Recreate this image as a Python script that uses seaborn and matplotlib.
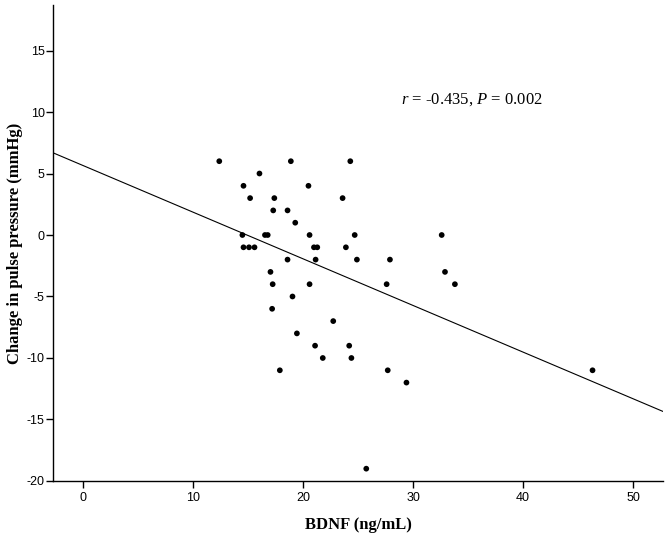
import numpy as np
import pandas as pd
import matplotlib
matplotlib.use("Agg")
import matplotlib.pyplot as plt
import seaborn as sns

# BDNF (ng/mL) vs change in pulse pressure (mmHg)
bdnf = [12.4, 18.9, 24.3, 16.05, 14.6, 20.5, 15.2, 17.4, 23.6, 17.3,
        18.6, 19.3, 14.5, 16.55, 16.8, 20.6, 24.7, 32.6, 14.6, 15.1,
        15.6, 21.0, 21.3, 23.9, 18.6, 21.15, 24.9, 27.9, 17.05, 32.9,
        17.25, 20.6, 27.6, 33.8, 19.05, 17.2, 22.75, 19.45, 21.1, 24.2,
        21.8, 24.4, 17.9, 27.7, 46.3, 29.4, 25.75]
dpp = [6, 6, 6, 5, 4, 4, 3, 3, 3, 2,
       2, 1, 0, 0, 0, 0, 0, 0, -1, -1,
       -1, -1, -1, -1, -2, -2, -2, -2, -3, -3,
       -4, -4, -4, -4, -5, -6, -7, -8, -9, -9,
       -10, -10, -11, -11, -11, -12, -19]

x_ticks = [0, 10, 20, 30, 40, 50]
y_ticks = [-20, -15, -10, -5, 0, 5, 10, 15]
stat_text = r"$\it{r}$ = -0.435, $\it{P}$ = 0.002"

df = pd.DataFrame({"BDNF": bdnf, "dPP": dpp})

sns.set_style("ticks")
plt.rcParams["font.family"] = ["Liberation Sans", "DejaVu Sans"]
plt.rcParams["axes.unicode_minus"] = False
plt.rcParams["text.color"] = "black"
plt.rcParams["axes.labelcolor"] = "black"
plt.rcParams["mathtext.fontset"] = "custom"
plt.rcParams["mathtext.it"] = "Liberation Serif:italic"
plt.rcParams["mathtext.rm"] = "Liberation Serif"

fig = plt.figure(figsize=(6.66, 5.34), dpi=100)
ax = fig.add_axes([0.0796, 0.0993, 0.9159, 0.8913])

ax.set_xlim(-2.7, 52.7)
ax.set_ylim(-20, 18.7)

sns.regplot(
    data=df, x="BDNF", y="dPP", ax=ax,
    ci=None, truncate=False,
    scatter_kws=dict(s=17, color="black", edgecolor="none", alpha=1),
    line_kws=dict(color="black", lw=0.8),
)

ax.set_xlim(-2.7, 52.7)
ax.set_ylim(-20, 18.7)
ax.set_xticks(x_ticks)
ax.set_yticks(y_ticks)
ax.tick_params(labelsize=9, length=5, width=1, colors="black", pad=1)
ax.tick_params(axis="x", pad=3)

for s in ["top", "right"]:
    ax.spines[s].set_visible(False)
for s in ["left", "bottom"]:
    ax.spines[s].set_linewidth(1)
    ax.spines[s].set_color("black")

ax.set_xlabel("BDNF (ng/mL)", fontsize=12, fontweight="bold",
              family="Liberation Serif", labelpad=9)
ax.set_ylabel("Change in pulse pressure (mmHg)", fontsize=12, fontweight="bold",
              family="Liberation Serif", labelpad=3)

ax.text(28.9, 11.0, stat_text, fontsize=12, family="Liberation Serif",
        va="center", ha="left")

fig.savefig("out.png", dpi=100)
